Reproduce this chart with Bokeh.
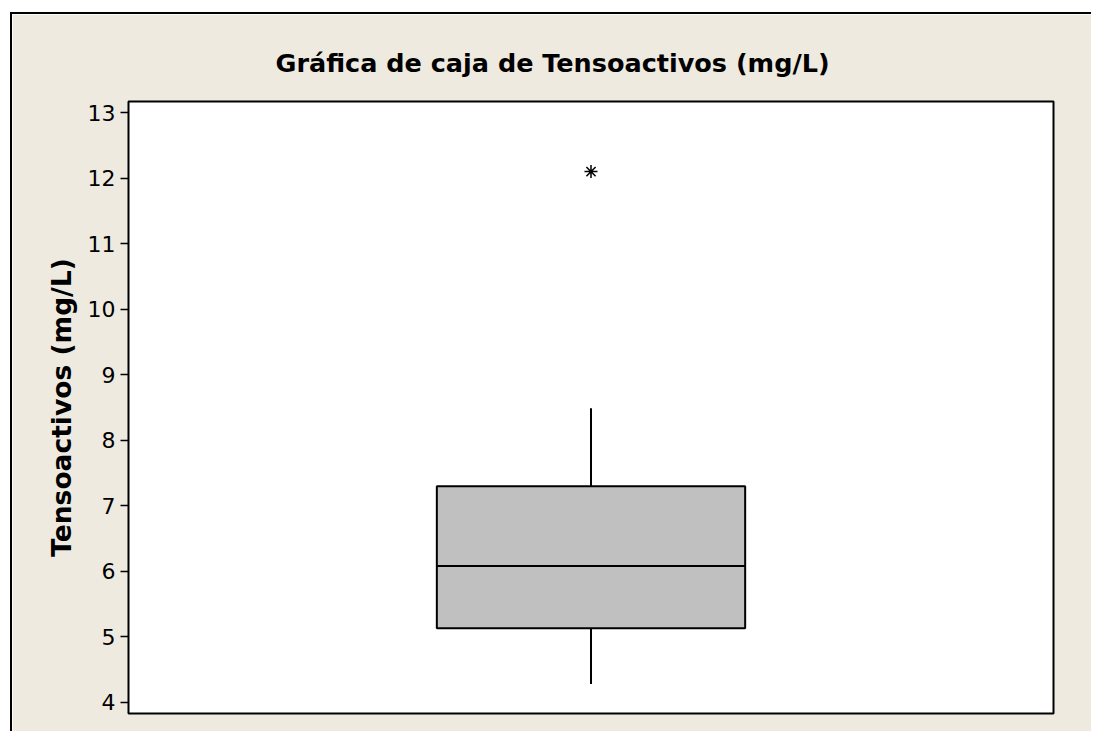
from bokeh.plotting import figure
from bokeh.models import FixedTicker, Range1d, FactorRange
from bokeh.embed import file_html
from bokeh.resources import INLINE

# ---- data ----
category = ["Tensoactivos"]
q1 = [5.13]
median = [6.08]
q3 = [7.30]
whisker_low = [4.28]
whisker_high = [8.49]
outliers = [12.1]
y_ticks = [4, 5, 6, 7, 8, 9, 10, 11, 12, 13]
title_text = "Gráfica de caja de Tensoactivos (mg/L)"
y_label = "Tensoactivos (mg/L)"

BG = "#EEEAE0"
FONT = "DejaVu Sans"
box_w = 1 / 3

p = figure(
    width=1081, height=719,
    x_range=FactorRange(*category, range_padding=0),
    y_range=Range1d(3.83, 13.17),
    output_backend="svg", toolbar_location=None,
    min_border_left=116, min_border_top=87, min_border_right=40, min_border_bottom=20,
    styles={"border-left": "2px solid #000", "border-top": "2px solid #000",
            "margin-left": "10px", "margin-top": "12px"},
)
p.border_fill_color = BG
p.background_fill_color = "white"
p.outline_line_color = "black"
p.outline_line_width = 2
p.grid.visible = False
p.xaxis.visible = False

p.title.text = title_text
p.title.align = "left"
p.title.offset = 147
p.title.standoff = 48
p.title.text_font = FONT
p.title.text_font_style = "bold"
p.title.text_font_size = "25.5px"
p.title.text_color = "black"

ya = p.yaxis[0]
ya.ticker = FixedTicker(ticks=y_ticks)
ya.axis_line_color = None
ya.major_tick_in = 0
ya.major_tick_out = 8
ya.major_tick_line_width = 1.5
ya.minor_tick_line_color = None
ya.major_label_text_font = FONT
ya.major_label_text_font_size = "22px"
ya.major_label_text_color = "black"
ya.major_label_standoff = 5
ya.axis_label = y_label
ya.axis_label_text_font = FONT
ya.axis_label_text_font_style = "bold"
ya.axis_label_text_font_size = "26.5px"
ya.axis_label_text_color = "black"
ya.axis_label_standoff = 8

# whiskers
p.segment(x0=category, y0=whisker_low, x1=category, y1=q1, line_color="black", line_width=2)
p.segment(x0=category, y0=q3, x1=category, y1=whisker_high, line_color="black", line_width=2)
# box
p.vbar(x=category, width=box_w, bottom=q1, top=q3, fill_color="#C0C0C0",
       line_color="black", line_width=2)
# median
p.vbar(x=category, width=box_w, bottom=median, top=median, fill_alpha=0,
       line_color="black", line_width=2)
# outlier
p.scatter(x=category * len(outliers), y=outliers, marker="asterisk", size=13,
          line_color="black", line_width=1.5)

open("out.html", "w").write(file_html(p, INLINE))
